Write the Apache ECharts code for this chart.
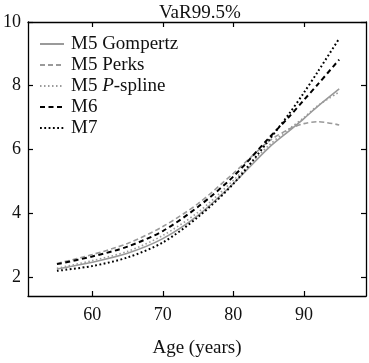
<!DOCTYPE html>
<html>
<head>
<meta charset="utf-8">
<script src="https://cdn.jsdelivr.net/npm/echarts@6/dist/echarts.min.js"></script>
<style>
  html, body { margin: 0; padding: 0; background: #fff; }
  #chart { width: 369px; height: 363px; }
</style>
</head>
<body>
<div id="chart"></div>
<script>
// ages (x axis)
const ages = [55, 60, 65, 70, 75, 80, 85, 88, 90, 92, 95];

// VaR99.5% by model
const gompertz = [2.25, 2.46, 2.74, 3.20, 3.93, 4.93, 6.05, 6.60, 6.97, 7.36, 7.90];
const perks    = [2.42, 2.70, 3.05, 3.58, 4.30, 5.25, 6.25, 6.65, 6.81, 6.87, 6.77];
const pspline  = [2.27, 2.51, 2.80, 3.30, 4.03, 5.03, 6.12, 6.66, 7.00, 7.38, 7.80];
const m6       = [2.40, 2.64, 2.95, 3.44, 4.20, 5.15, 6.35, 7.05, 7.55, 8.05, 8.82];
const m7       = [2.19, 2.34, 2.61, 3.08, 3.88, 4.92, 6.28, 7.15, 7.78, 8.45, 9.48];

const seriesNames = ["M5 Gompertz", "M5 Perks", "M5 P-spline", "M6", "M7"];
const xTicks = [60, 70, 80, 90];
const yTicks = [2, 4, 6, 8, 10];

const font = "'Liberation Serif', 'DejaVu Serif', serif";
const grey = "#9a9a9a";

const chart = echarts.init(document.getElementById("chart"));

const pair = (vals) => ages.map((a, i) => [a, vals[i]]);

const mkLine = (name, vals, color, type, width) => ({
  name: name,
  type: "line",
  data: pair(vals),
  symbol: "none",
  showSymbol: false,
  smooth: 0.3,
  lineStyle: { color: color, type: type, width: width },
  itemStyle: { color: color },
  z: 3,
});

const axisBase = {
  type: "value",
  axisLine: { show: true, onZero: false, lineStyle: { color: "#000", width: 1.3 } },
  axisTick: { show: true, inside: true, length: 5, lineStyle: { color: "#000", width: 1.2 } },
  splitLine: { show: false },
};

chart.setOption({
  animation: false,
  backgroundColor: "#fff",
  title: {
    text: "VaR99.5%",
    left: 154,
    top: -1,
    textStyle: { fontFamily: font, fontSize: 19, fontWeight: "normal", color: "#111" },
  },
  grid: { left: 23, right: 3, top: 22, bottom: 56 },
  legend: {
    orient: "vertical",
    left: 34,
    top: 29,
    itemWidth: 24,
    itemHeight: 14,
    itemGap: 1,
    data: seriesNames,
    itemStyle: { opacity: 0 },
    formatter: (name) =>
      name === "M5 P-spline" ? "{r|M5 }{i|P}{r|-spline}" : name,
    textStyle: {
      fontFamily: font,
      fontSize: 19,
      lineHeight: 20,
      padding: [0, 0, 0, 2],
      color: "#111",
      rich: {
        r: { fontFamily: font, fontSize: 19, color: "#111" },
        i: { fontFamily: font, fontSize: 19, fontStyle: "italic", color: "#111" },
      },
    },
  },
  xAxis: [
    {
      ...axisBase,
      min: 50.9,
      max: 98.8,
      name: "Age (years)",
      nameLocation: "middle",
      nameGap: 43,
      nameTextStyle: { fontFamily: font, fontSize: 19, color: "#111" },
      axisTick: { ...axisBase.axisTick, customValues: xTicks },
      axisLabel: { customValues: xTicks, margin: 10, fontFamily: font, fontSize: 18, color: "#111" },
    },
    {
      ...axisBase,
      position: "top",
      min: 50.9,
      max: 98.8,
      axisTick: { ...axisBase.axisTick, customValues: xTicks },
      axisLabel: { show: false },
    },
  ],
  yAxis: [
    {
      ...axisBase,
      min: 1.4,
      max: 10,
      axisTick: { ...axisBase.axisTick, customValues: yTicks },
      axisLabel: { customValues: yTicks, margin: 7, fontFamily: font, fontSize: 18, color: "#111" },
    },
    {
      ...axisBase,
      position: "right",
      min: 1.4,
      max: 10,
      axisTick: { ...axisBase.axisTick, customValues: yTicks },
      axisLabel: { show: false },
    },
  ],
  series: [
    mkLine(seriesNames[0], gompertz, grey, "solid", 1.6),
    mkLine(seriesNames[1], perks, grey, [5, 3], 1.6),
    mkLine(seriesNames[2], pspline, grey, [1.5, 2.5], 1.6),
    mkLine(seriesNames[3], m6, "#000", [5, 3.5], 2),
    mkLine(seriesNames[4], m7, "#000", [1.8, 2.5], 2),
  ],
});
</script>
</body>
</html>
